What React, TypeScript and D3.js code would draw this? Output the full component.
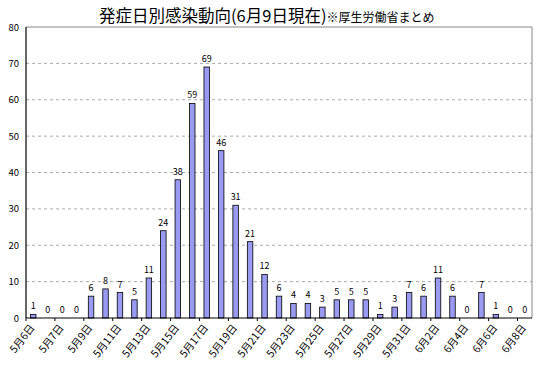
import React from 'react'
import * as d3 from 'd3'

const categories = [
  '5月6日', '', '5月7日', '5月8日', '5月9日', '5月10日', '5月11日', '5月12日', '5月13日', '5月14日',
  '5月15日', '5月16日', '5月17日', '5月18日', '5月19日', '5月20日', '5月21日', '5月22日', '5月23日', '5月24日',
  '5月25日', '5月26日', '5月27日', '5月28日', '5月29日', '5月30日', '5月31日', '6月1日', '6月2日', '6月3日',
  '6月4日', '6月5日', '6月6日', '6月7日', '6月8日',
]
const values = [1, 0, 0, 0, 6, 8, 7, 5, 11, 24, 38, 59, 69, 46, 31, 21, 12, 6, 4, 4, 3, 5, 5, 5, 1, 3, 7, 6, 11, 6, 0, 7, 1, 0, 0]
const yTicks = [0, 10, 20, 30, 40, 50, 60, 70, 80]

const W = 537, H = 372
const m = { left: 26, right: 5, top: 27, bottom: 54 }
const font = '"Noto Sans CJK JP", sans-serif'

const App = () => {
  const x = d3.scaleBand<number>()
    .domain(d3.range(values.length))
    .range([m.left, W - m.right])
    .paddingInner(0.62)
    .paddingOuter(0.31)
  const step = x.step()
  const y = d3.scaleLinear().domain([0, 80]).range([H - m.bottom, m.top])
  const x0 = m.left, x1 = W - m.right, y0 = y(0), yTop = y(80)

  return (
    <svg width={W} height={H} style={{ position: 'absolute', left: 0, top: 0, background: '#fff' }} fontFamily={font}>
      <text x={99} y={22} fontSize={16.5} fill="#000">
        発症日別感染動向(6月9日現在)<tspan fontSize={12}>※厚生労働省まとめ</tspan>
      </text>
      {yTicks.slice(1, -1).map(t => (
        <line key={t} x1={x0} x2={x1} y1={y(t)} y2={y(t)} stroke="#aaa" strokeDasharray="3,3" strokeWidth={1} />
      ))}
      <polyline points={`${x0},${yTop} ${x1},${yTop} ${x1},${y0}`} fill="none" stroke="#888" strokeWidth={1} />
      {yTicks.map(t => (
        <text key={t} x={19} y={y(t) + 3.5} fontSize={9.5} textAnchor="end" fill="#000">{t}</text>
      ))}
      {values.map((v, i) => (
        <g key={i}>
          {v > 0 && (
            <rect x={x(i)!} y={y(v)} width={x.bandwidth()} height={y0 - y(v)} fill="#9a9af2" stroke="#000" strokeWidth={0.8} />
          )}
          <text x={x(i)! + x.bandwidth() / 2} y={y(v) - 5} fontSize={9} textAnchor="middle" fill="#000">{v}</text>
        </g>
      ))}
      <line x1={x0} x2={x0} y1={yTop} y2={y0} stroke="#000" strokeWidth={1.2} />
      <line x1={x0} x2={x1} y1={y0} y2={y0} stroke="#000" strokeWidth={1.2} />
      {d3.range(0, values.length + 1, 2).map(i => (
        <line key={i} x1={x0 + i * step} x2={x0 + i * step} y1={y0} y2={y0 + 3} stroke="#000" strokeWidth={1} />
      ))}
      {categories.map((c, i) => i % 2 === 0 ? (
        <text key={i} transform={`translate(${x(i)! + x.bandwidth() / 2 + 2},${y0 + 10}) rotate(-52)`}
          fontSize={10.5} textAnchor="end" fill="#000">{c}</text>
      ) : null)}
    </svg>
  )
}

export default App
